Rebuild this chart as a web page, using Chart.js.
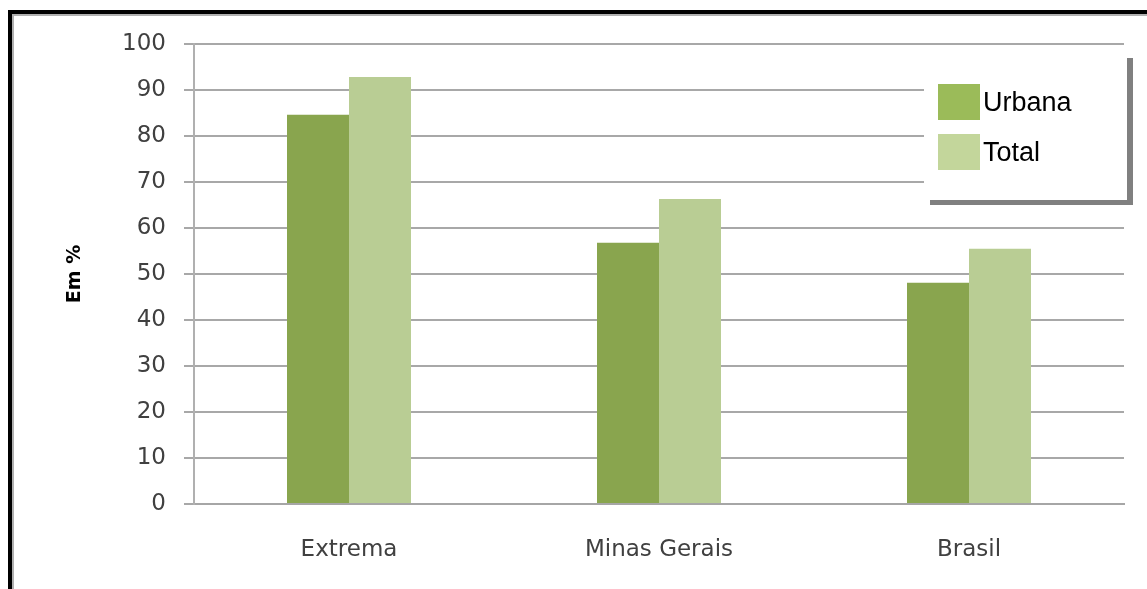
<!DOCTYPE html>
<html>
<head>
<meta charset="utf-8">
<script src="https://cdn.jsdelivr.net/npm/chart.js@4.4.0/dist/chart.umd.min.js"></script>
<style>
  html, body { margin: 0; padding: 0; background: #fff; }
  #wrap { position: relative; width: 1147px; height: 589px; overflow: hidden; }
  #frame {
    position: absolute; left: 8px; top: 10px; right: -10px; bottom: -10px;
    border-left: 4px solid #000; border-top: 4px solid #000;
    box-shadow: inset 2px 2px 0 #b0b0b0;
  }
  #chart { position: absolute; left: 0; top: 0; }
  #legend {
    position: absolute; left: 924px; top: 53px; width: 203px; height: 147px;
    background: #fff; box-shadow: 6px 5px 0 #808080;
    font-family: "Liberation Sans", Arial, sans-serif; font-size: 27px; color: #000;
  }
  .item { position: absolute; left: 14px; display: flex; align-items: center; }
  .sw { width: 42px; height: 36px; margin-right: 3px; }
</style>
</head>
<body>
<div id="wrap">
  <div id="frame"></div>
  <canvas id="chart" width="1147" height="589"></canvas>
  <div id="legend"></div>
</div>
<script>
// dados
const categorias = ['Extrema', 'Minas Gerais', 'Brasil'];
const urbana = [84.6, 56.8, 48.1];
const total = [92.8, 66.3, 55.5];
const nomesSeries = ['Urbana', 'Total'];
const coresBarra = ['#89a54e', '#b9cd94'];
const coresLegenda = ['#9bbb59', '#c3d69b'];

const ctx = document.getElementById('chart').getContext('2d');

new Chart(ctx, {
    type: 'bar',
    data: {
        labels: categorias,
        datasets: [
            { label: nomesSeries[0], data: urbana, backgroundColor: coresBarra[0] },
            { label: nomesSeries[1], data: total, backgroundColor: coresBarra[1] }
        ]
    },
    options: {
        responsive: false,
        animation: false,
        devicePixelRatio: 1,
        layout: { padding: { left: 40, top: 44, right: 23, bottom: 0 } },
        plugins: {
            legend: { display: false },
            tooltip: { enabled: false }
        },
        datasets: {
            bar: { categoryPercentage: 0.4, barPercentage: 1.0 }
        },
        scales: {
            x: {
                grid: { display: false, drawTicks: false },
                border: { color: '#a6a6a6', width: 2 },
                ticks: {
                    color: '#404040',
                    font: { family: 'DejaVu Sans', size: 23 },
                    padding: 32
                },
                afterFit: function (scale) { scale.height = 85; }
            },
            y: {
                min: 0,
                max: 100,
                ticks: {
                    stepSize: 10,
                    color: '#404040',
                    font: { family: 'DejaVu Sans', size: 23 },
                    padding: 18
                },
                grid: { color: '#a8a8a8', lineWidth: 2, tickLength: 10 },
                border: { color: '#b0b0b0', width: 2 },
                title: {
                    display: true,
                    text: 'Em %',
                    color: '#000',
                    font: { family: 'DejaVu Sans', size: 19, weight: 'bold' },
                    padding: { top: 24, bottom: 0 }
                },
                afterFit: function (scale) { scale.width = 154; }
            }
        }
    }
});

// legenda em HTML (fica por cima do gráfico)
const leg = document.getElementById('legend');
nomesSeries.forEach(function (nome, i) {
    const row = document.createElement('div');
    row.className = 'item';
    row.style.top = (31 + i * 50) + 'px';
    row.innerHTML = '<div class="sw" style="background:' + coresLegenda[i] + '"></div><span>' + nome + '</span>';
    leg.appendChild(row);
});
</script>
</body>
</html>
